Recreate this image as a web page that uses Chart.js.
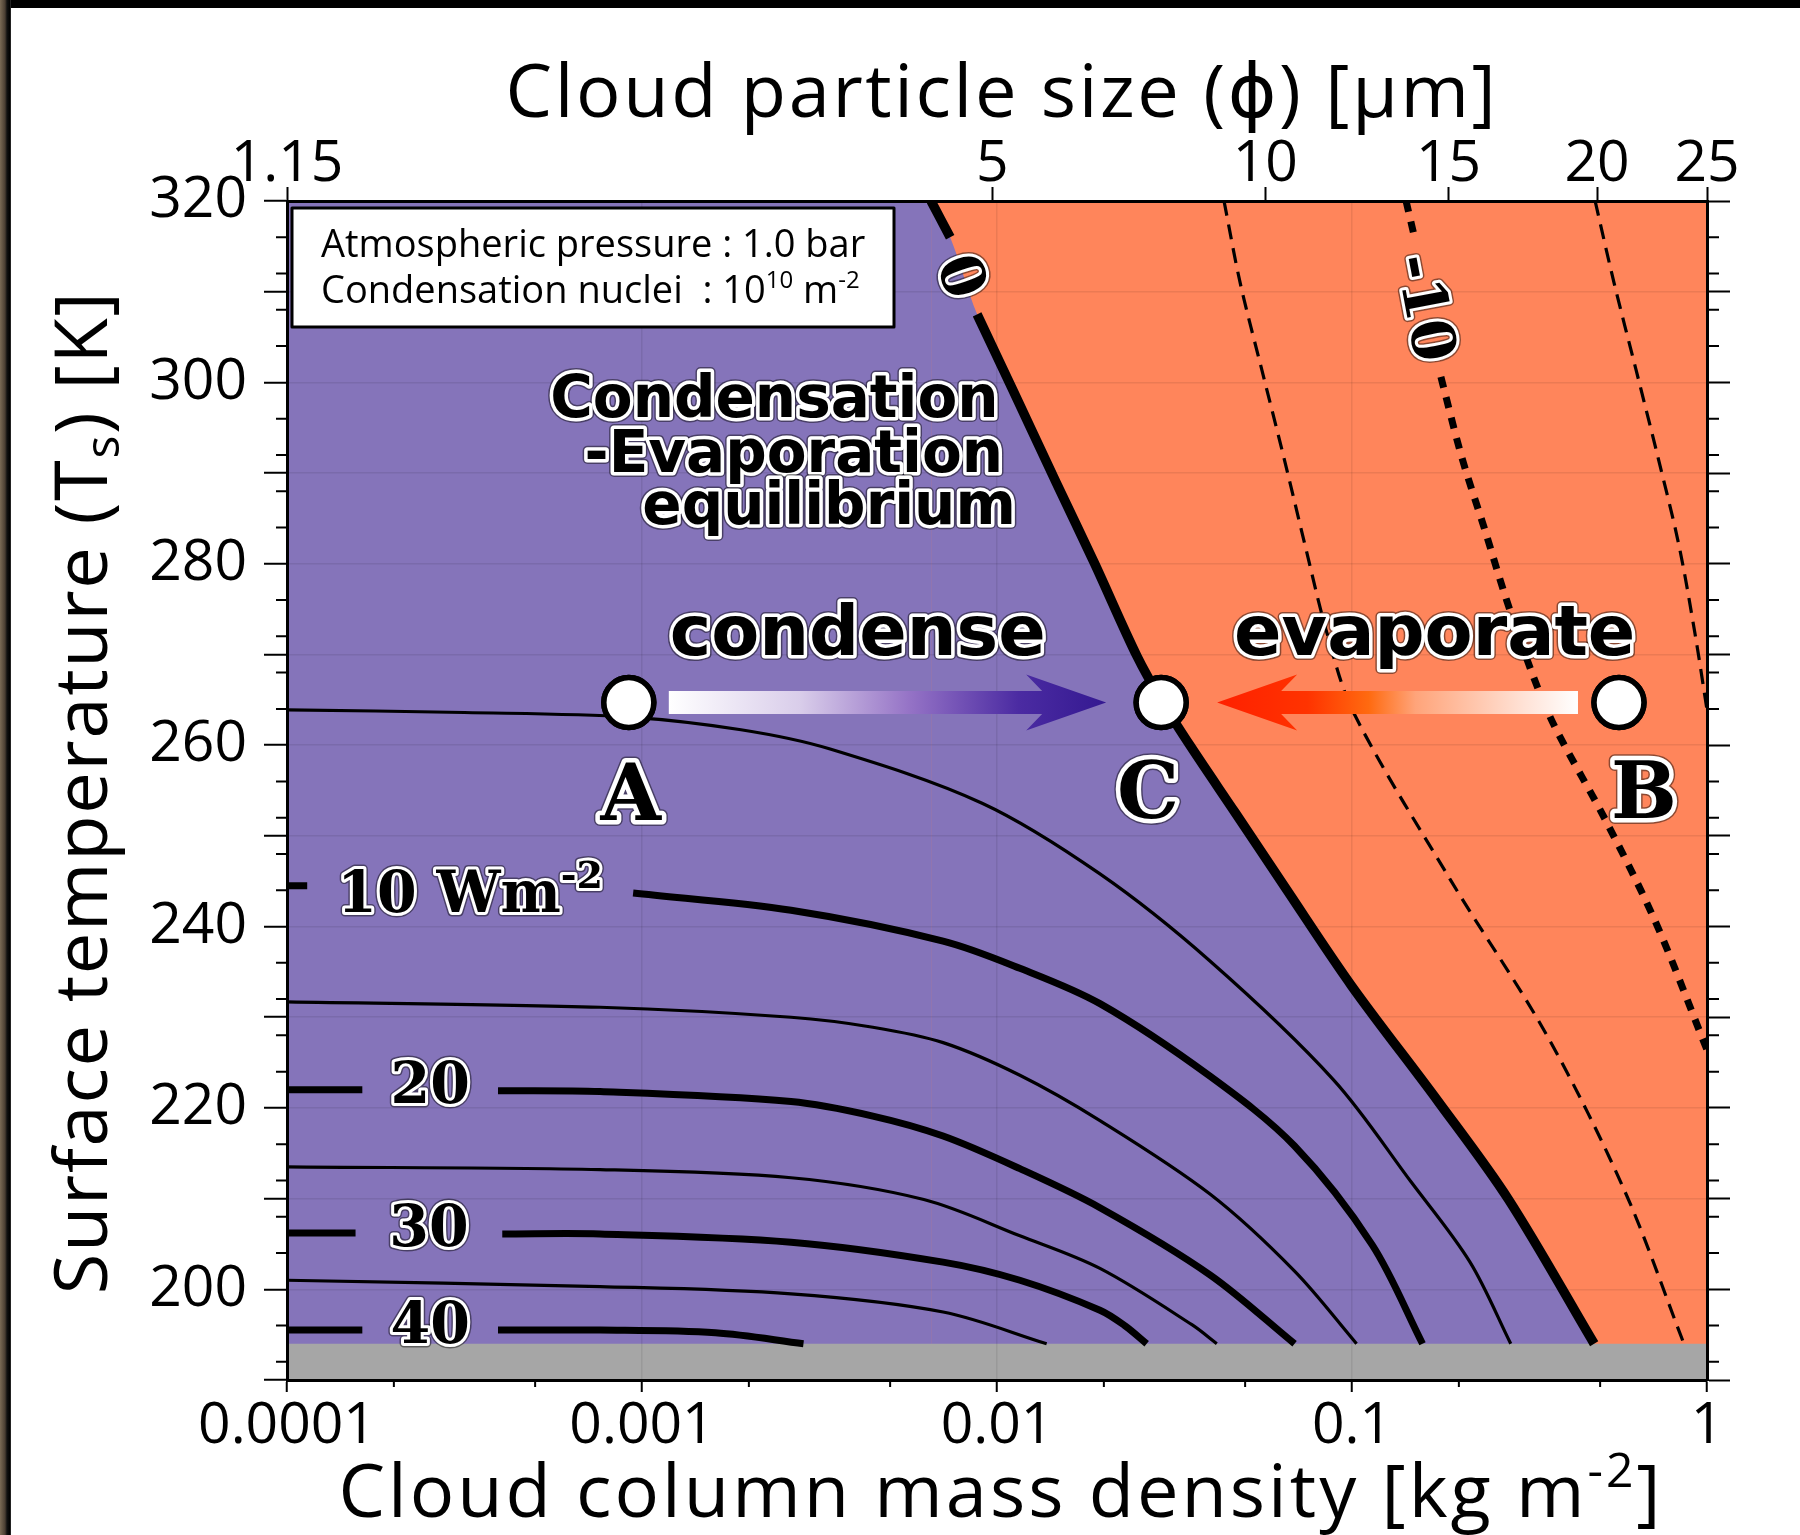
<!DOCTYPE html>
<html>
<head>
<meta charset="utf-8">
<title>Cloud column mass density vs surface temperature</title>
<script src="https://cdn.jsdelivr.net/npm/chart.js@4.4.1/dist/chart.umd.min.js"></script>
<style>
  html, body { margin: 0; padding: 0; background: #fff; }
  #frame { position: relative; width: 1800px; height: 1535px; overflow: hidden; background: #fff; }
  #plot { position: absolute; left: 0; top: 0; }
  #edgeTop { position: absolute; left: 0; top: 0; width: 1800px; height: 8px; background: #000; }
  #edgeLeft { position: absolute; left: 0; top: 0; width: 11px; height: 1535px;
    background: linear-gradient(to right, #7a6a55 0, #4a3e32 5px, #111 7px, #000 10px, #444 11px); }
</style>
</head>
<body>
<div id="frame">
  <canvas id="plot" width="1800" height="1535"></canvas>
  <div id="edgeTop"></div>
  <div id="edgeLeft"></div>
</div>
<script>
// ---------- axis ticks ----------
const massDecades = [1e-4, 1e-3, 1e-2, 1e-1, 1];
const massDecadeLabels = ['0.0001', '0.001', '0.01', '0.1', '1'];
const massMinorTicks = [2e-4, 5e-4, 2e-3, 5e-3, 2e-2, 5e-2, 0.2, 0.5];
const sizeTickMass = [1e-4, 0.0097, 0.057, 0.187, 0.49, 1];
const sizeTickLabels = ['1.15', '5', '10', '15', '20', '25'];
const tempMajorTicks = [190, 200, 210, 220, 230, 240, 250, 260, 270, 280, 290, 300, 310, 320];
const tempTickLabels = ['', '200', '', '220', '', '240', '', '260', '', '280', '', '300', '', '320'];
const tempMinorTicks = [192, 196, 204, 208, 212, 216, 224, 228, 232, 236, 244, 248, 252, 256,
                        264, 268, 272, 276, 284, 288, 292, 296, 304, 308, 312, 316];

// ---------- net flux contours: cloud mass [kg m-2] vs surface temperature [K] ----------
// null temperature = break in the line where the contour value is written
const c0Mass  = [0.00652, 0.00738, 0.0080, 0.00879, 0.0111, 0.0147, 0.0188, 0.0248, 0.0292, 0.0352, 0.0468, 0.0646, 0.100, 0.175, 0.276, 0.481];
const c0Temp  = [320, 316.0, null, 307.5, 299.1, 288.9, 280.1, 269.8, 264.8, 259.8, 252.6, 244.4, 233.4, 220.7, 209.9, 194.0];

const c5Mass  = [1e-4, 3.16e-4, 9.18e-4, 0.0019, 0.00337, 0.00908, 0.0195, 0.0398, 0.0887, 0.147, 0.215, 0.280];
const c5Temp  = [263.9, 263.6, 263.1, 261.7, 259.6, 253.6, 245.8, 236.2, 223.1, 211.8, 203.0, 194.0];

const c10Mass = [1e-4, 1.14e-4, 3.0e-4, 9.44e-4, 0.00263, 0.00705, 0.0116, 0.0195, 0.0398, 0.0689, 0.114, 0.158];
const c10Temp = [244.5, 244.5, null, 243.7, 241.8, 238.4, 235.4, 231.5, 223.5, 215.8, 204.9, 194.0];

const c15Mass = [1e-4, 7.62e-4, 0.00263, 0.00447, 0.00705, 0.0116, 0.0195, 0.0398, 0.0689, 0.103];
const c15Temp = [231.7, 231.1, 230.0, 228.9, 227.2, 223.6, 218.6, 210.5, 202.0, 194.0];

const c20Mass = [1e-4, 1.63e-4, 2.5e-4, 3.93e-4, 7.62e-4, 0.00263, 0.00447, 0.00705, 0.0116, 0.0195, 0.0398, 0.0689];
const c20Temp = [222.0, 222.0, null, 221.9, 221.8, 220.7, 219.1, 216.9, 213.3, 209.0, 201.6, 194.0];

const c25Mass = [1e-4, 7.62e-4, 0.00263, 0.00622, 0.0116, 0.0195, 0.0354, 0.0416];
const c25Temp = [213.5, 213.2, 212.3, 209.9, 205.9, 202.3, 196.1, 194.0];

const c30Mass = [1e-4, 1.56e-4, 2.5e-4, 4.04e-4, 7.62e-4, 0.00263, 0.00705, 0.0116, 0.0195, 0.0229, 0.0264];
const c30Temp = [206.2, 206.2, null, 206.1, 206.1, 205.2, 203.0, 201.0, 197.7, 196.0, 194.0];

const c35Mass = [1e-4, 7.62e-4, 0.00263, 0.00705, 0.0138];
const c35Temp = [201.0, 200.3, 199.5, 197.5, 194.0];

const c40Mass = [1e-4, 1.63e-4, 2.5e-4, 3.93e-4, 7.62e-4, 0.00161, 0.00285];
const c40Temp = [195.5, 195.5, null, 195.5, 195.5, 195.2, 194.0];

const cm5Mass  = [0.0436, 0.0484, 0.0557, 0.0643, 0.0738, 0.0851, 0.101, 0.189, 0.354, 0.587, 0.861];
const cm5Temp  = [320, 311.0, 301.4, 291.7, 282.0, 272.3, 263.6, 245.2, 228.0, 210.8, 194.0];

const cm10Mass = [0.142, 0.150, 0.16, 0.178, 0.204, 0.236, 0.272, 0.324, 0.373, 0.520, 0.718, 1];
const cm10Temp = [320, 316.0, null, 300.6, 291.7, 283.9, 276.1, 267.6, 262.0, 251.6, 240.4, 226.4];

const cm15Mass = [0.484, 0.547, 0.631, 0.728, 0.834, 0.925, 1];
const cm15Temp = [320, 311.0, 301.4, 291.7, 282.0, 272.3, 263.9];

// surface temperatures below this are not computed (grey band)
const groundTemp = 194;

// example states: A (condenses), C (equilibrium), B (evaporates)
const stateNames = ['A', 'C', 'B'];
const stateMass  = [9.18e-4, 0.0290, 0.565];
const stateTemp  = [264.7, 264.7, 264.7];

// region annotations (anchor mass, anchor temperature)
const noteTexts = ['Condensation', '-Evaporation', 'equilibrium', 'condense', 'evaporate'];
const noteMass  = [0.0101, 0.0104, 0.0113, 0.00405, 0.171];
const noteTemp  = [298.5, 292.5, 286.7, 272.8, 272.8];

// ---------- styling ----------
const PURPLE = '#8574BA', ORANGE = '#FF855B', GRAY = '#A6A6A6', GRID = 'rgba(0,0,0,0.08)';
const SANS = "'Open Sans', 'DejaVu Sans', sans-serif";
const SERIF = "'DejaVu Serif', 'Liberation Serif', serif";
const HEAVY = "'DejaVu Sans', 'Liberation Sans', sans-serif";
const tickFont = { family: SANS, size: 57, lineHeight: 1 };
const frameBorder = { display: true, color: '#000', width: 3, z: 2 };
const THIN = 3.2, THICK = 7, ZERO = 9.5, TENSION = 0.33;

function pts(mass, temp) { return mass.map((m, i) => ({ x: m, y: temp[i] })); }

function contour(mass, temp, width, dash) {
  return {
    data: pts(mass, temp), borderColor: '#000', borderWidth: width, borderDash: dash || [],
    pointRadius: 0, fill: false, clip: 0, tension: TENSION,
    borderCapStyle: 'butt', borderJoinStyle: 'round', order: 5
  };
}

const eqCurve = pts(c0Mass, c0Temp).filter(p => p.y !== null);
const last = a => a[a.length - 1];

const datasets = [
  // evaporating region (everything), then condensing region below the equilibrium curve, then grey band
  { data: [{ x: massDecades[0], y: c0Temp[0] }, { x: last(massDecades), y: c0Temp[0] }],
    backgroundColor: ORANGE, fill: 'start', borderWidth: 0, pointRadius: 0, order: 30 },
  { data: [{ x: massDecades[0], y: c0Temp[0] }, { x: c0Mass[0], y: c0Temp[0] }],
    backgroundColor: PURPLE, fill: 'start', borderWidth: 0, pointRadius: 0, order: 29 },
  { data: eqCurve, backgroundColor: PURPLE, fill: 'start', borderWidth: 0, pointRadius: 0,
    tension: TENSION, order: 29 },
  { data: [{ x: massDecades[0], y: groundTemp }, { x: last(massDecades), y: groundTemp }],
    backgroundColor: GRAY, fill: 'start', borderWidth: 0, pointRadius: 0, order: 28 },

  contour(c40Mass, c40Temp, THICK),
  contour(c35Mass, c35Temp, THIN),
  contour(c30Mass, c30Temp, THICK),
  contour(c25Mass, c25Temp, THIN),
  contour(c20Mass, c20Temp, THICK),
  contour(c15Mass, c15Temp, THIN),
  contour(c10Mass, c10Temp, THICK),
  contour(c5Mass, c5Temp, THIN),
  contour(c0Mass, c0Temp, ZERO),
  contour(cm5Mass, cm5Temp, THIN, [15, 9]),
  contour(cm10Mass, cm10Temp, THICK, [11, 10]),
  contour(cm15Mass, cm15Temp, THIN, [15, 9]),

  { data: pts(stateMass, stateTemp), showLine: false, pointRadius: 25, pointBorderWidth: 5.5,
    pointBackgroundColor: '#fff', pointBorderColor: '#000', pointStyle: 'circle', clip: false, order: 1 }
];
const STATE_SET = datasets.length - 1;

// ---------- text helpers ----------
function drawRuns(ctx, runs, x, yBase, align, halo, spacing) {
  ctx.letterSpacing = (spacing || 0) + 'px';
  const widths = runs.map(r => { ctx.font = r.font; return ctx.measureText(r.text).width; });
  const total = widths.reduce((s, w) => s + w, 0);
  const x0 = align === 'center' ? x - total / 2 : (align === 'right' ? x - total : x);
  ctx.textAlign = 'left';
  ctx.textBaseline = 'alphabetic';
  ctx.lineJoin = 'round';
  const passes = halo ? [['rgba(0,0,0,0.45)', halo + 3], ['#fff', halo], null] : [null];
  for (const p of passes) {
    let cx = x0;
    runs.forEach((r, i) => {
      ctx.font = r.font;
      const yy = yBase + (r.dy || 0);
      if (p) { ctx.strokeStyle = p[0]; ctx.lineWidth = p[1]; ctx.strokeText(r.text, cx, yy); }
      else { ctx.fillStyle = '#000'; ctx.fillText(r.text, cx, yy); }
      cx += widths[i];
    });
  }
  ctx.letterSpacing = '0px';
}

function gapAnchor(mass, temp, px, py) {
  const i = temp.indexOf(null);
  const x0 = px(mass[i - 1]), y0 = py(temp[i - 1]);
  const x1 = px(mass[i + 1]), y1 = py(temp[i + 1]);
  return { x: (x0 + x1) / 2, y: (y0 + y1) / 2, angle: Math.atan2(y1 - y0, x1 - x0) };
}

function arrow(ctx, tail, tip, y, stops) {
  const dir = Math.sign(tip - tail);
  const shaft = 11.5, head = 28, headLen = 80, notch = 64;
  const g = ctx.createLinearGradient(tail, 0, tip, 0);
  stops.forEach(([o, c]) => g.addColorStop(o, c));
  ctx.beginPath();
  ctx.moveTo(tail, y - shaft);
  ctx.lineTo(tip - dir * notch, y - shaft);
  ctx.lineTo(tip - dir * headLen, y - head);
  ctx.lineTo(tip, y);
  ctx.lineTo(tip - dir * headLen, y + head);
  ctx.lineTo(tip - dir * notch, y + shaft);
  ctx.lineTo(tail, y + shaft);
  ctx.closePath();
  ctx.fillStyle = g;
  ctx.fill();
}

const decor = {
  id: 'decor',
  afterDraw(chart) {
    const { ctx, chartArea: a } = chart;
    const sx = chart.scales.x, sy = chart.scales.y;
    const px = m => sx.getPixelForValue(m);
    const py = t => sy.getPixelForValue(t);
    ctx.save();

    // minor tick marks
    ctx.strokeStyle = '#000';
    ctx.lineWidth = 2;
    ctx.beginPath();
    massMinorTicks.forEach(m => { const x = px(m); ctx.moveTo(x, a.bottom); ctx.lineTo(x, a.bottom + 7); });
    tempMinorTicks.forEach(t => {
      const y = py(t);
      ctx.moveTo(a.left - 11, y); ctx.lineTo(a.left, y);
      ctx.moveTo(a.right, y); ctx.lineTo(a.right + 12, y);
    });
    ctx.stroke();

    // condense / evaporate arrows towards the equilibrium state C
    const xa = px(stateMass[0]), xc = px(stateMass[1]), xb = px(stateMass[2]), ys = py(stateTemp[1]);
    arrow(ctx, xa + 40, xc - 55, ys, [[0, '#ffffff'], [0.3, '#d9cdea'], [0.55, '#9573c6'], [0.8, '#4b2ba2'], [1, '#341991']]);
    arrow(ctx, xb - 41, xc + 56, ys, [[0, '#ffffff'], [0.15, '#ffe2d6'], [0.45, '#ffa47a'], [0.58, '#ff6a10'], [0.75, '#ff3300'], [1, '#ff2000']]);

    // state markers on top of the grid
    chart.getDatasetMeta(STATE_SET).data.forEach(el => el.draw(ctx, a));

    // state letters
    const letterOffsets = [[2, 89], [-13, 87], [25, 87]];
    stateNames.forEach((n, i) => {
      drawRuns(ctx, [{ text: n, font: 'bold 78px ' + SERIF }], px(stateMass[i]) + letterOffsets[i][0],
        py(stateTemp[i]) + letterOffsets[i][1] + 0.3645 * 78, 'center', 9);
    });

    // contour value labels in the line breaks
    const lf = 'bold 57px ' + SERIF, lsf = 'bold 38px ' + SERIF;
    const flat = [
      [c10Mass, c10Temp, [{ text: '10 Wm', font: lf }, { text: '-2', font: lsf, dy: -24 }], 2],
      [c20Mass, c20Temp, [{ text: '20', font: lf }], -8],
      [c30Mass, c30Temp, [{ text: '30', font: lf }], -8],
      [c40Mass, c40Temp, [{ text: '40', font: lf }], -8]
    ];
    flat.forEach(([m, t, runs, dy]) => {
      const g = gapAnchor(m, t, px, py);
      drawRuns(ctx, runs, g.x, g.y + dy + 0.3645 * 57, 'center', 6);
    });
    const tilted = [[c0Mass, c0Temp, '0'], [cm10Mass, cm10Temp, '-10']];
    tilted.forEach(([m, t, txt]) => {
      const g = gapAnchor(m, t, px, py);
      ctx.save();
      ctx.translate(g.x, g.y);
      ctx.rotate(g.angle);
      drawRuns(ctx, [{ text: txt, font: 'bold 60px ' + SERIF }], 0, 0.3645 * 60, 'center', 6);
      ctx.restore();
    });

    // region annotations
    noteTexts.forEach((txt, i) => {
      const size = i < 3 ? 58 : 70;
      const align = i < 3 ? 'right' : 'center';
      drawRuns(ctx, [{ text: txt, font: 'bold ' + size + 'px ' + HEAVY }], px(noteMass[i]),
        py(noteTemp[i]) + 0.365 * size, align, 7);
    });

    // parameter box
    const bx = a.left + 5, by = a.top + 7, bw = 602, bh = 119;
    ctx.fillStyle = '#fff';
    ctx.fillRect(bx, by, bw, bh);
    ctx.strokeStyle = '#000';
    ctx.lineWidth = 3;
    ctx.strokeRect(bx, by, bw, bh);
    const bf = '38px ' + SANS, bsf = '24px ' + SANS;
    drawRuns(ctx, [{ text: 'Atmospheric pressure : 1.0 bar', font: bf }], bx + 29, by + 49, 'left', 0);
    drawRuns(ctx, [{ text: 'Condensation nuclei  : 10', font: bf }, { text: '10', font: bsf, dy: -15 },
                   { text: ' m', font: bf }, { text: '-2', font: bsf, dy: -15 }], bx + 29, by + 95, 'left', 0);

    // axis titles
    const tf = '74px ' + SANS, tsf = '48px ' + SANS;
    const midX = (a.left + a.right) / 2;
    drawRuns(ctx, [{ text: 'Cloud particle size (\u03D5) [\u03BCm]', font: tf }], midX + 5, a.top - 84, 'center', 0, 2.6);
    drawRuns(ctx, [{ text: 'Cloud column mass density [kg m', font: tf }, { text: '-2', font: tsf, dy: -30 },
                   { text: ']', font: tf }], midX + 4, a.bottom + 137, 'center', 0, 3);
    ctx.save();
    ctx.translate(a.left - 180, (a.top + a.bottom) / 2 + 2);
    ctx.rotate(-Math.PI / 2);
    drawRuns(ctx, [{ text: 'Surface temperature (T', font: tf }, { text: 's', font: tsf, dy: 12 },
                   { text: ') [K]', font: tf }], 0, 0, 'center', 0, 1.7);
    ctx.restore();

    ctx.restore();
  }
};

new Chart(document.getElementById('plot'), {
  type: 'line',
  data: { datasets },
  options: {
    responsive: false,
    animation: false,
    devicePixelRatio: 1,
    events: [],
    layout: { padding: 0 },
    plugins: { legend: { display: false }, tooltip: { enabled: false } },
    scales: {
      x: {
        type: 'logarithmic', position: 'bottom', min: massDecades[0], max: last(massDecades),
        afterBuildTicks: s => { s.ticks = massDecades.map(v => ({ value: v })); },
        afterFit: s => { s.height = 155; },
        ticks: { callback: (v, i) => massDecadeLabels[i], autoSkip: false, maxRotation: 0, minRotation: 0,
                 padding: 6, font: tickFont, color: '#000' },
        grid: { color: GRID, lineWidth: 1.5, tickColor: '#000', tickWidth: 2, tickLength: 12, z: 1 },
        border: frameBorder
      },
      x2: {
        type: 'logarithmic', position: 'top', min: massDecades[0], max: last(massDecades),
        afterBuildTicks: s => { s.ticks = sizeTickMass.map(v => ({ value: v })); },
        afterFit: s => { s.height = 201; },
        ticks: { callback: (v, i) => sizeTickLabels[i], autoSkip: false, maxRotation: 0, minRotation: 0,
                 padding: -6, font: tickFont, color: '#000' },
        grid: { drawOnChartArea: false, tickColor: '#000', tickWidth: 2, tickLength: 14, z: 1 },
        border: frameBorder
      },
      y: {
        type: 'linear', position: 'left', min: tempMajorTicks[0], max: last(tempMajorTicks),
        afterBuildTicks: s => { s.ticks = tempMajorTicks.map(v => ({ value: v })); },
        afterFit: s => { s.width = 287; },
        ticks: { callback: (v, i) => tempTickLabels[i], autoSkip: false, padding: 17, font: tickFont, color: '#000' },
        grid: { color: GRID, lineWidth: 1.5, tickColor: '#000', tickWidth: 2, tickLength: 23, z: 1 },
        border: frameBorder
      },
      y2: {
        type: 'linear', position: 'right', min: tempMajorTicks[0], max: last(tempMajorTicks),
        afterBuildTicks: s => { s.ticks = tempMajorTicks.map(v => ({ value: v })); },
        afterFit: s => { s.width = 93; },
        ticks: { display: false },
        grid: { drawOnChartArea: false, tickColor: '#000', tickWidth: 2, tickLength: 23, z: 1 },
        border: frameBorder
      }
    }
  },
  plugins: [decor]
});
</script>
</body>
</html>
